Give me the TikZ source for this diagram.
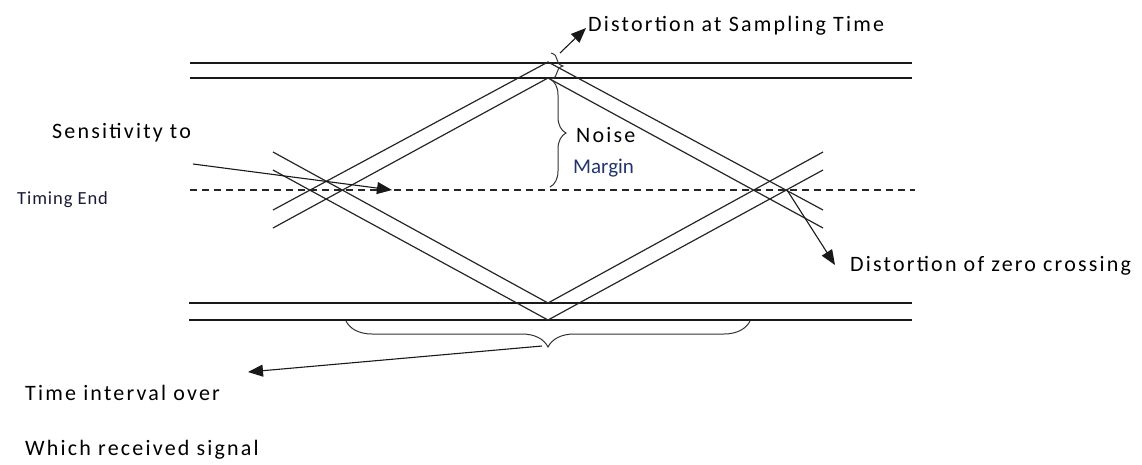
\documentclass[tikz,border=0pt]{standalone}
\usepackage{fontspec}
\setmainfont{Carlito}
\newfontfamily\lab{Carlito}[LetterSpace=10]
\newfontfamily\labsmall{Carlito}[LetterSpace=5]
\newfontfamily\labplain{Carlito}
\usetikzlibrary{arrows.meta,decorations.pathreplacing}
\definecolor{marginblue}{HTML}{22346C}
\definecolor{timingdark}{HTML}{1A1A36}
\begin{document}
\begin{tikzpicture}[x=1pt,y=-1pt,
  eyeline/.style={line width=1.2pt, black!85},
  levelline/.style={line width=1.3pt, black!90},
  zeroline/.style={line width=1.1pt, black!85, dash pattern=on 7pt off 5pt},
  ptr/.style={line width=1.1pt, black!90, -{Triangle[length=15pt,width=12pt]}},
  bracepath/.style={line width=1pt, black!80, decorate, decoration={brace, amplitude=#1}},
  lbl/.style={anchor=base west, inner sep=0pt, font={\lab\fontsize{22pt}{26pt}\selectfont}},
  lblsmall/.style={anchor=base west, inner sep=0pt, text=timingdark, font={\labsmall\fontsize{18.5pt}{22pt}\selectfont}},
  lblmargin/.style={anchor=base west, inner sep=0pt, text=marginblue, font={\labplain\fontsize{21pt}{25pt}\selectfont}}]
\useasboundingbox (0,0) rectangle (1142,464);

% level lines
\coordinate (T1a) at (190,63);  \coordinate (T1b) at (912,63);
\coordinate (T2a) at (190,78);  \coordinate (T2b) at (912,78);
\coordinate (B1a) at (189,303); \coordinate (B1b) at (912,303);
\coordinate (B2a) at (189,320); \coordinate (B2b) at (912,320);
\coordinate (Za) at (190,190);  \coordinate (Zb) at (915,190);
\draw[levelline] (T1a) -- (T1b);
\draw[levelline] (T2a) -- (T2b);
\draw[levelline] (B1a) -- (B1b);
\draw[levelline] (B2a) -- (B2b);
\draw[zeroline] (Za) -- (Zb);

% eye traces
\coordinate (L1) at (273,210); \coordinate (P1) at (548,62);  \coordinate (R1) at (823,210);
\coordinate (L2) at (273,228); \coordinate (P2) at (548,78);  \coordinate (R2) at (823,228);
\coordinate (L3) at (273,152); \coordinate (V3) at (548,303); \coordinate (R3) at (823,152);
\coordinate (L4) at (273,170); \coordinate (V4) at (548,320); \coordinate (R4) at (823,170);
\draw[eyeline] (L1) -- (P1) -- (R1);
\draw[eyeline] (L2) -- (P2) -- (R2);
\draw[eyeline] (L3) -- (V3) -- (R3);
\draw[eyeline] (L4) -- (V4) -- (R4);

% braces
\coordinate (sbT) at (551,53);  \coordinate (sbB) at (551,79);
\draw[bracepath=12pt] (sbT) -- (sbB);
\coordinate (nbT) at (550,79);  \coordinate (nbB) at (550,187);
\draw[bracepath=16pt] (nbT) -- (nbB);
\coordinate (tbR) at (750,321); \coordinate (tbL) at (346,321);
\draw[bracepath=26pt] (tbR) -- (tbL);

% labels
\node[lbl] (dst) at (588,31) {Distortion at Sampling Time};
\node[lbl] (sens) at (52,138) {Sensitivity to};
\node[lblsmall] (tend) at (17,204) {Timing End};
\node[lbl] (noise) at (576,142) {Noise};
\node[lblmargin] (margin) at (573,173) {Margin};
\node[lbl] (dzc) at (850,271) {Distortion of zero crossing};
\node[lbl] (tio) at (25,400) {Time interval over};
\node[lbl] (wrs) at (25,455) {Which received signal};

% pointers
\coordinate (a1s) at (560,53);  \coordinate (a1e) at (586,28);
\draw[ptr] (a1s) -- (a1e);
\coordinate (a2s) at (193,164); \coordinate (a2e) at (392,190);
\draw[ptr] (a2s) -- (a2e);
\coordinate (a3s) at (787,190); \coordinate (a3e) at (835,265);
\draw[ptr] (a3s) -- (a3e);
\coordinate (a4s) at (542,346); \coordinate (a4e) at (248,372);
\draw[ptr] (a4s) -- (a4e);
\end{tikzpicture}
\end{document}
